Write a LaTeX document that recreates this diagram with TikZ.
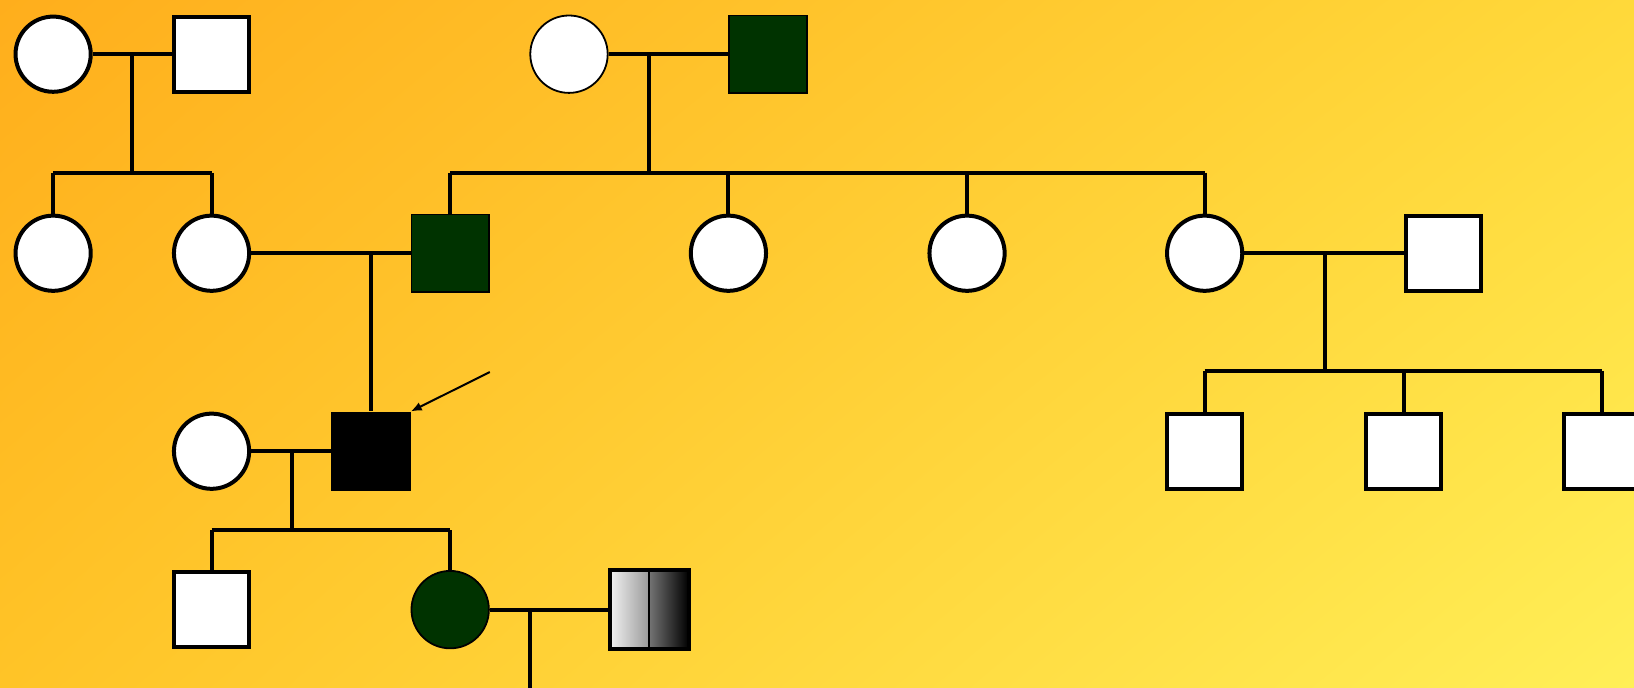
\documentclass[tikz,border=0pt]{standalone}
\usetikzlibrary{arrows.meta,shadings}
\definecolor{bgTL}{HTML}{FFAE1C}
\definecolor{bgTR}{HTML}{FFD93A}
\definecolor{bgBL}{HTML}{FFC427}
\definecolor{bgBR}{HTML}{FFEF57}
\definecolor{affected}{HTML}{003300}
\tikzset{
  line/.style={line width=4pt},
  female/.style={circle, draw, line width=4pt, fill=white, minimum size=75.2pt, inner sep=0pt},
  male/.style={rectangle, draw, line width=4pt, fill=white, minimum size=75.2pt, inner sep=0pt},
  femaleaff/.style={circle, draw, line width=1.8pt, fill=affected, minimum size=77.4pt, inner sep=0pt},
  maleaff/.style={rectangle, draw, line width=1.8pt, fill=affected, minimum size=77.4pt, inner sep=0pt},
  femalethin/.style={circle, draw, line width=1.8pt, fill=white, minimum size=77.4pt, inner sep=0pt},
  proband/.style={rectangle, fill=black, minimum size=79.2pt, inner sep=0pt},
}
\begin{document}
\begin{tikzpicture}[x=1.0421pt,y=-1.0421pt]
% background
\shade[upper left=bgTL, upper right=bgTR, lower left=bgBL, lower right=bgBR] (0,0) rectangle (1568,660);
\useasboundingbox (0,0) rectangle (1568,660);

% generation I
\node[female] (a) at (51,52) {};
\node[male] (b) at (203,52) {};
\node[femalethin] (c) at (546,52) {};
\node[maleaff] (d) at (737,52) {};

% generation II
\node[female] (e) at (51,243) {};
\node[female] (f) at (203,243) {};
\node[maleaff] (g) at (432,243) {};
\node[female] (h) at (699,243) {};
\node[female] (i) at (928,243) {};
\node[female] (j) at (1156,243) {};
\node[male] (k) at (1385,243) {};

% generation III
\node[female] (o) at (203,433) {};
\node[proband] (p) at (356,433) {};
\node[male] (l) at (1156,433) {};
\node[male] (m) at (1347,433) {};
\node[male] (n) at (1537,433) {};

% generation IV
\node[male] (q) at (203,585) {};
\node[femaleaff] (r) at (432,585) {};
\node[rectangle, minimum size=79.2pt, inner sep=0pt] (s) at (623,585) {};
\shade[left color=white!95!black, right color=black!40] (585,549) rectangle (623,621);
\shade[left color=black!55, right color=black] (623,549) rectangle (661,621);
\draw[line width=2pt] (s.north) -- (s.south);
\draw[line width=4pt] (585,547) rectangle (661,623);

% marriage lines
\draw[line] (a) -- (b);
\draw[line] (c) -- (d);
\draw[line] (f) -- (g);
\draw[line] (j) -- (k);
\draw[line] (o) -- (p);
\draw[line] (r) -- (s);

% descent lines
\coordinate (ab) at (127,52);
\coordinate (ab2) at (127,166);
\draw[line] (ab) -- (ab2);
\coordinate (s1l) at (51,166);
\coordinate (s1r) at (203,166);
\draw[line] (s1l) -- (s1r);
\draw[line] (s1l) -- (e.north);
\draw[line] (s1r) -- (f.north);

\coordinate (cd) at (623,52);
\coordinate (cd2) at (623,166);
\draw[line] (cd) -- (cd2);
\coordinate (s2l) at (432,166);
\coordinate (s2h) at (699,166);
\coordinate (s2i) at (928,166);
\coordinate (s2r) at (1156,166);
\draw[line] (s2l) -- (s2r);
\draw[line] (s2l) -- (g.north);
\draw[line] (s2h) -- (h.north);
\draw[line] (s2i) -- (i.north);
\draw[line] (s2r) -- (j.north);

\coordinate (fg) at (356,243);
\draw[line] (fg) -- (p.north);

\coordinate (jk) at (1271,243);
\coordinate (jk2) at (1271,356);
\draw[line] (jk) -- (jk2);
\coordinate (s3l) at (1156,356);
\coordinate (s3m) at (1347,356);
\coordinate (s3r) at (1537,356);
\draw[line] (s3l) -- (s3r);
\draw[line] (s3l) -- (l.north);
\draw[line] (s3m) -- (m.north);
\draw[line] (s3r) -- (n.north);

\coordinate (op) at (280,433);
\coordinate (op2) at (280,509);
\draw[line] (op) -- (op2);
\coordinate (s4l) at (203,509);
\coordinate (s4r) at (432,509);
\draw[line] (s4l) -- (s4r);
\draw[line] (s4l) -- (q.north);
\draw[line] (s4r) -- (r.north);

\coordinate (rs) at (509,585);
\coordinate (rs2) at (509,665);
\draw[line] (rs) -- (rs2);

% proband arrow
\coordinate (arr) at (470,357);
\draw[line width=2pt, -{Latex[length=11pt,width=9pt]}] (arr) -- (p.north east);
\end{tikzpicture}
\end{document}
